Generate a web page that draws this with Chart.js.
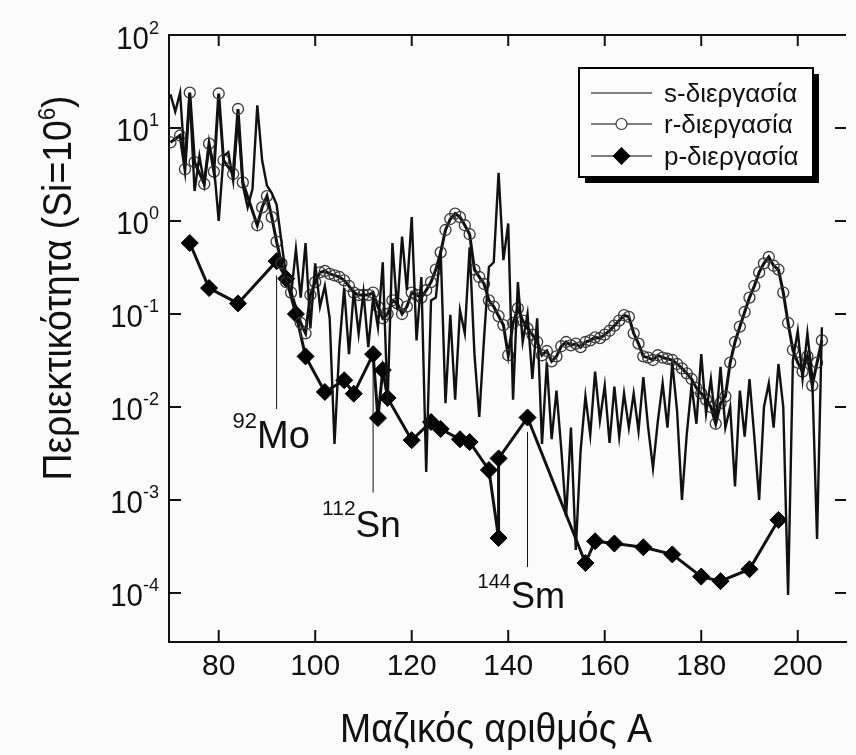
<!DOCTYPE html>
<html>
<head>
<meta charset="utf-8">
<script src="https://cdn.jsdelivr.net/npm/chart.js@4.4.0/dist/chart.umd.min.js"></script>
<style>
    html, body { margin: 0; padding: 0; background: #fbfbfb; }
    #wrap { width: 856px; height: 755px; }
</style>
</head>
<body>
<div id="wrap"><canvas id="chart" width="856" height="755"></canvas></div>
<script>
// s-process (line only)
const sMass = [70, 71, 72, 73, 74, 75, 76, 77, 78, 79, 80, 81, 82, 83, 84, 85, 86, 87, 88, 89,
    90, 91, 92, 93, 94, 95, 96, 97, 98, 99, 100, 101, 102, 103, 104, 105, 106, 107, 108, 109,
    110, 111, 112, 113, 114, 115, 116, 117, 118, 119, 120, 121, 122, 123, 124, 125, 126, 127, 128, 129,
    130, 131, 132, 133, 134, 135, 136, 137, 138, 139, 140, 141, 142, 143, 144, 145, 146, 147, 148, 149,
    150, 151, 152, 153, 154, 155, 156, 157, 158, 159, 160, 161, 162, 163, 164, 165, 166, 167, 168, 169,
    170, 171, 172, 173, 174, 175, 176, 177, 178, 179, 180, 181, 182, 183, 184, 185, 186, 187, 188, 189,
    190, 191, 192, 193, 194, 195, 196, 197, 198, 199, 200, 201, 202, 203, 204, 205];
const sAbund = [23, 15, 24, 4.0, 22, 2.1, 5.0, 2.5, 6.5, 4.0, 1.0, 5.0, 5.5, 2.7, 13, 2.4, 1.4, 2.2, 17.5, 4.5,
    2.4, 2.0, 1.5, 0.6, 0.25, 0.16, 0.5, 0.15, 0.58, 0.07, 0.35, 0.12, 0.2, 0.09, 0.004, 0.044, 0.19, 0.037, 0.18, 0.061,
    0.17, 0.044, 0.15, 0.072, 0.36, 0.011, 0.58, 0.11, 0.68, 0.18, 1.1, 0.052, 0.25, 0.002, 0.14, 0.15, 0.48, 0.011, 0.098, 0.012,
    0.11, 0.062, 0.52, 0.037, 0.0078, 0.056, 0.32, 0.36, 3.3, 0.38, 0.94, 0.012, 0.22, 0.05, 0.1, 0.02, 0.09, 0.004, 0.03, 0.0045,
    0.015, 0.0035, 0.00066, 0.006, 0.00029, 0.0034, 0.013, 0.005, 0.024, 0.0072, 0.017, 0.0041, 0.0166, 0.0048, 0.014, 0.006, 0.014, 0.0055, 0.021, 0.006,
    0.0022, 0.007, 0.018, 0.006, 0.03, 0.009, 0.001, 0.0051, 0.017, 0.0066, 0.037, 0.0085, 0.02, 0.0066, 0.027, 0.006, 0.01, 0.0014, 0.015, 0.0048,
    0.02, 0.0048, 0.001, 0.01, 0.018, 0.006, 0.029, 0.01, 0.000095, 0.032, 0.066, 0.02, 0.062, 0.021, 0.00038, 0.072];

// r-process (open circles)
const rMass = [70, 72, 73, 74, 75, 77, 78, 79, 80, 81, 83, 84, 85, 88, 89, 90, 91, 92, 93, 94,
    95, 97, 98, 99, 100, 101, 102, 103, 104, 105, 106, 107, 108, 109, 110, 111, 112, 113, 114, 115,
    116, 117, 118, 119, 120, 121, 122, 123, 124, 125, 126, 127, 128, 129, 130, 131, 132, 133, 134, 135,
    136, 137, 138, 139, 140, 141, 142, 143, 144, 145, 146, 147, 148, 149, 150, 151, 152, 153, 154, 155,
    156, 157, 158, 159, 160, 161, 162, 163, 164, 165, 166, 167, 168, 169, 170, 171, 172, 173, 174, 175,
    176, 177, 178, 179, 180, 181, 182, 183, 184, 185, 186, 187, 188, 189, 190, 191, 192, 193, 194, 195,
    196, 197, 198, 199, 200, 201, 202, 203, 204, 205];
const rAbund = [7, 8.3, 3.6, 24, 4.3, 2.5, 6.8, 3.4, 23.5, 4.5, 3.2, 16, 2.6, 0.9, 1.4, 1.85, 1.1, 0.6, 0.35, 0.22,
    0.17, 0.08, 0.062, 0.16, 0.22, 0.28, 0.29, 0.27, 0.26, 0.25, 0.23, 0.2, 0.17, 0.16, 0.16, 0.16, 0.17, 0.12, 0.09, 0.1,
    0.14, 0.13, 0.1, 0.12, 0.17, 0.16, 0.15, 0.18, 0.22, 0.3, 0.46, 0.8, 1.05, 1.2, 1.1, 0.9, 0.72, 0.3, 0.25, 0.21,
    0.14, 0.12, 0.095, 0.076, 0.036, 0.08, 0.115, 0.085, 0.07, 0.06, 0.05, 0.036, 0.04, 0.031, 0.035, 0.045, 0.05, 0.046, 0.048, 0.044,
    0.05, 0.052, 0.056, 0.055, 0.06, 0.066, 0.075, 0.085, 0.097, 0.093, 0.062, 0.048, 0.035, 0.034, 0.032, 0.036, 0.034, 0.033, 0.032, 0.029,
    0.026, 0.023, 0.02, 0.016, 0.014, 0.012, 0.01, 0.0066, 0.011, 0.013, 0.03, 0.05, 0.073, 0.105, 0.15, 0.2, 0.28, 0.35, 0.41, 0.33,
    0.3, 0.17, 0.08, 0.041, 0.03, 0.024, 0.035, 0.017, 0.03, 0.052];

// p-nuclei (diamonds), in drawing order (138La before 138Ce)
const pMass = [74, 78, 84, 92, 94, 96, 98, 102, 106, 108, 112, 113, 114, 115, 120, 124, 126, 130, 132, 136,
    138, 138, 144, 156, 158, 162, 168, 174, 180, 184, 190, 196];
const pAbund = [0.58, 0.19, 0.13, 0.37, 0.24, 0.1, 0.035, 0.0145, 0.0194, 0.0139, 0.037, 0.0076, 0.025, 0.0125, 0.0044, 0.0069, 0.0058, 0.0045, 0.0042, 0.0021,
    0.00039, 0.0028, 0.0077, 0.00021, 0.00036, 0.00034, 0.00031, 0.00026, 0.00015, 0.000134, 0.00018, 0.00061];

const seriesNames = ['s-διεργασία', 'r-διεργασία', 'p-διεργασία'];
const xTicks = [80, 100, 120, 140, 160, 180, 200];
const yTicks = [1e-4, 1e-3, 1e-2, 1e-1, 1, 10, 100];

// labelled p-nuclei: mass, mass number text, element
const markMass = [92, 112, 144];
const markText = ['92', '112', '144'];
const markElem = ['Mo', 'Sn', 'Sm'];

const FONT = '"Liberation Sans", Arial, Helvetica, sans-serif';
const ink = '#111';

// where the marker lines and labels sit (values on the y axis, pixel offsets for text)
const markStyle = [
    { top: 0.26, bottom: 0.0095, dx: -44, dy: 39, supSize: 22, size: 38, rise: 20 },
    { top: 0.0297, bottom: 0.0012, dx: -51, dy: 44, supSize: 21, size: 37, rise: 22 },
    { top: 0.0054, bottom: 0.00019, dx: -50, dy: 41, supSize: 20, size: 36, rise: 20 }
];

function toPoints(xs, ys) {
    return xs.map((v, i) => ({ x: v, y: ys[i] }));
}

function runsWidth(ctx, runs) {
    let w = 0;
    runs.forEach(r => {
        ctx.font = r.size + 'px ' + FONT;
        w += ctx.measureText(r.text).width;
    });
    return w;
}

// draws text made of several runs (for superscripts)
function drawRuns(ctx, runs, x, y, align, sx) {
    const w = runsWidth(ctx, runs) * sx;
    let left = x;
    if (align === 'right') left = x - w;
    if (align === 'center') left = x - w / 2;
    ctx.save();
    ctx.translate(left, y);
    ctx.scale(sx, 1);
    ctx.textAlign = 'left';
    ctx.textBaseline = 'alphabetic';
    let ox = 0;
    runs.forEach(r => {
        ctx.font = r.size + 'px ' + FONT;
        ctx.fillText(r.text, ox, -(r.rise || 0));
        ox += ctx.measureText(r.text).width;
    });
    ctx.restore();
}

function seg(ctx, x1, y1, x2, y2) {
    ctx.beginPath();
    ctx.moveTo(x1, y1);
    ctx.lineTo(x2, y2);
    ctx.stroke();
}

const frame = {
    id: 'frame',
    beforeDraw(chart) {
        const ctx = chart.ctx;
        ctx.save();
        ctx.fillStyle = '#fbfbfb';
        ctx.fillRect(0, 0, chart.width, chart.height);
        ctx.restore();
    },
    afterDraw(chart) {
        const { ctx, chartArea: a, scales: { x, y } } = chart;
        ctx.save();
        ctx.strokeStyle = ink;
        ctx.fillStyle = ink;
        ctx.lineWidth = 2;

        // top axis and inward ticks
        seg(ctx, a.left, a.top, a.right, a.top);
        xTicks.forEach(v => {
            const px = x.getPixelForValue(v);
            seg(ctx, px, a.bottom, px, a.bottom - 12);
            seg(ctx, px, a.top, px, a.top + 11);
        });
        yTicks.forEach(v => {
            const py = y.getPixelForValue(v);
            seg(ctx, a.left, py, a.left + 12, py);
            seg(ctx, a.right - 11, py, a.right, py);
        });

        // y tick labels 10^n
        yTicks.forEach(v => {
            const py = y.getPixelForValue(v);
            const e = Math.round(Math.log10(v));
            drawRuns(ctx, [
                { text: '10', size: 31 },
                { text: String(e), size: 19, rise: 15 }
            ], a.left - 10, py + 13.5, 'right', 0.95);
        });

        // axis titles
        const yRuns = [
            { text: 'Περιεκτικότητα (Si=10', size: 40 },
            { text: '6', size: 24, rise: 16 },
            { text: ')', size: 40 }
        ];
        ctx.save();
        ctx.translate(57, 288);
        ctx.rotate(-Math.PI / 2);
        drawRuns(ctx, yRuns, 0, 14, 'center', 385 / runsWidth(ctx, yRuns));
        ctx.restore();

        const xRuns = [{ text: 'Μαζικός αριθμός Α', size: 40 }];
        drawRuns(ctx, xRuns, 496, 742, 'center', 312 / runsWidth(ctx, xRuns));

        // marker lines with isotope labels
        ctx.lineWidth = 1;
        markMass.forEach((m, i) => {
            const st = markStyle[i];
            const px = x.getPixelForValue(m);
            const yb = y.getPixelForValue(st.bottom);
            seg(ctx, px, y.getPixelForValue(st.top), px, yb);
            drawRuns(ctx, [
                { text: markText[i], size: st.supSize, rise: st.rise },
                { text: markElem[i], size: st.size }
            ], px + st.dx, yb + st.dy, 'left', 1);
        });

        // legend box with shadow
        const lx = 579, ly = 68, lw = 234, lh = 109;
        ctx.fillStyle = '#000';
        ctx.fillRect(lx + 6, ly + 6, lw, lh);
        ctx.fillStyle = '#fdfdfd';
        ctx.fillRect(lx, ly, lw, lh);
        ctx.lineWidth = 2;
        ctx.strokeStyle = '#000';
        ctx.strokeRect(lx, ly, lw, lh);

        const rows = [93, 124, 156];
        ctx.strokeStyle = '#555';
        ctx.lineWidth = 1.5;
        rows.forEach((ry, i) => {
            seg(ctx, 591, ry, 652, ry);
            ctx.fillStyle = ink;
            ctx.font = '26px ' + FONT;
            ctx.textAlign = 'left';
            ctx.textBaseline = 'alphabetic';
            ctx.fillText(seriesNames[i], 664, ry + 9);
        });
        ctx.beginPath();
        ctx.arc(621.5, rows[1], 5.5, 0, Math.PI * 2);
        ctx.fillStyle = '#fdfdfd';
        ctx.fill();
        ctx.strokeStyle = '#333';
        ctx.lineWidth = 1.2;
        ctx.stroke();
        ctx.beginPath();
        ctx.moveTo(621.5 - 9, rows[2]);
        ctx.lineTo(621.5, rows[2] - 9);
        ctx.lineTo(621.5 + 9, rows[2]);
        ctx.lineTo(621.5, rows[2] + 9);
        ctx.closePath();
        ctx.fillStyle = '#000';
        ctx.fill();

        ctx.restore();
    }
};

new Chart(document.getElementById('chart'), {
    type: 'line',
    data: {
        datasets: [{
            label: seriesNames[0],
            data: toPoints(sMass, sAbund),
            borderColor: ink,
            borderWidth: 2.4,
            pointRadius: 0,
            tension: 0
        }, {
            label: seriesNames[1],
            data: toPoints(rMass, rAbund),
            borderColor: ink,
            borderWidth: 3,
            pointRadius: 5.5,
            pointStyle: 'circle',
            pointBorderColor: '#3a3a3a',
            pointBorderWidth: 1.3,
            pointBackgroundColor: 'rgba(0,0,0,0)',
            tension: 0
        }, {
            label: seriesNames[2],
            data: toPoints(pMass, pAbund),
            borderColor: ink,
            borderWidth: 3,
            pointRadius: 8.5,
            pointStyle: 'rectRot',
            pointBackgroundColor: '#000',
            pointBorderColor: '#000',
            pointBorderWidth: 1,
            tension: 0
        }]
    },
    options: {
        responsive: false,
        animation: false,
        devicePixelRatio: 1,
        layout: {
            padding: { left: 0, right: 10, top: 35, bottom: 0 }
        },
        plugins: {
            legend: { display: false },
            tooltip: { enabled: false }
        },
        scales: {
            x: {
                type: 'linear',
                min: 69.7,
                max: 210,
                afterFit: s => { s.height = 113; },
                afterBuildTicks: s => { s.ticks = xTicks.map(v => ({ value: v })); },
                grid: { display: false, drawTicks: false },
                border: { display: true, color: ink, width: 2 },
                ticks: {
                    padding: 7,
                    color: ink,
                    maxRotation: 0,
                    autoSkip: false,
                    font: { family: FONT, size: 30 }
                }
            },
            y: {
                type: 'logarithmic',
                min: 2.97e-5,
                max: 100,
                afterFit: s => { s.width = 169; },
                afterBuildTicks: s => { s.ticks = yTicks.map(v => ({ value: v })); },
                grid: { display: false, drawTicks: false },
                border: { display: true, color: ink, width: 2 },
                ticks: { display: false }
            }
        }
    },
    plugins: [frame]
});
</script>
</body>
</html>
